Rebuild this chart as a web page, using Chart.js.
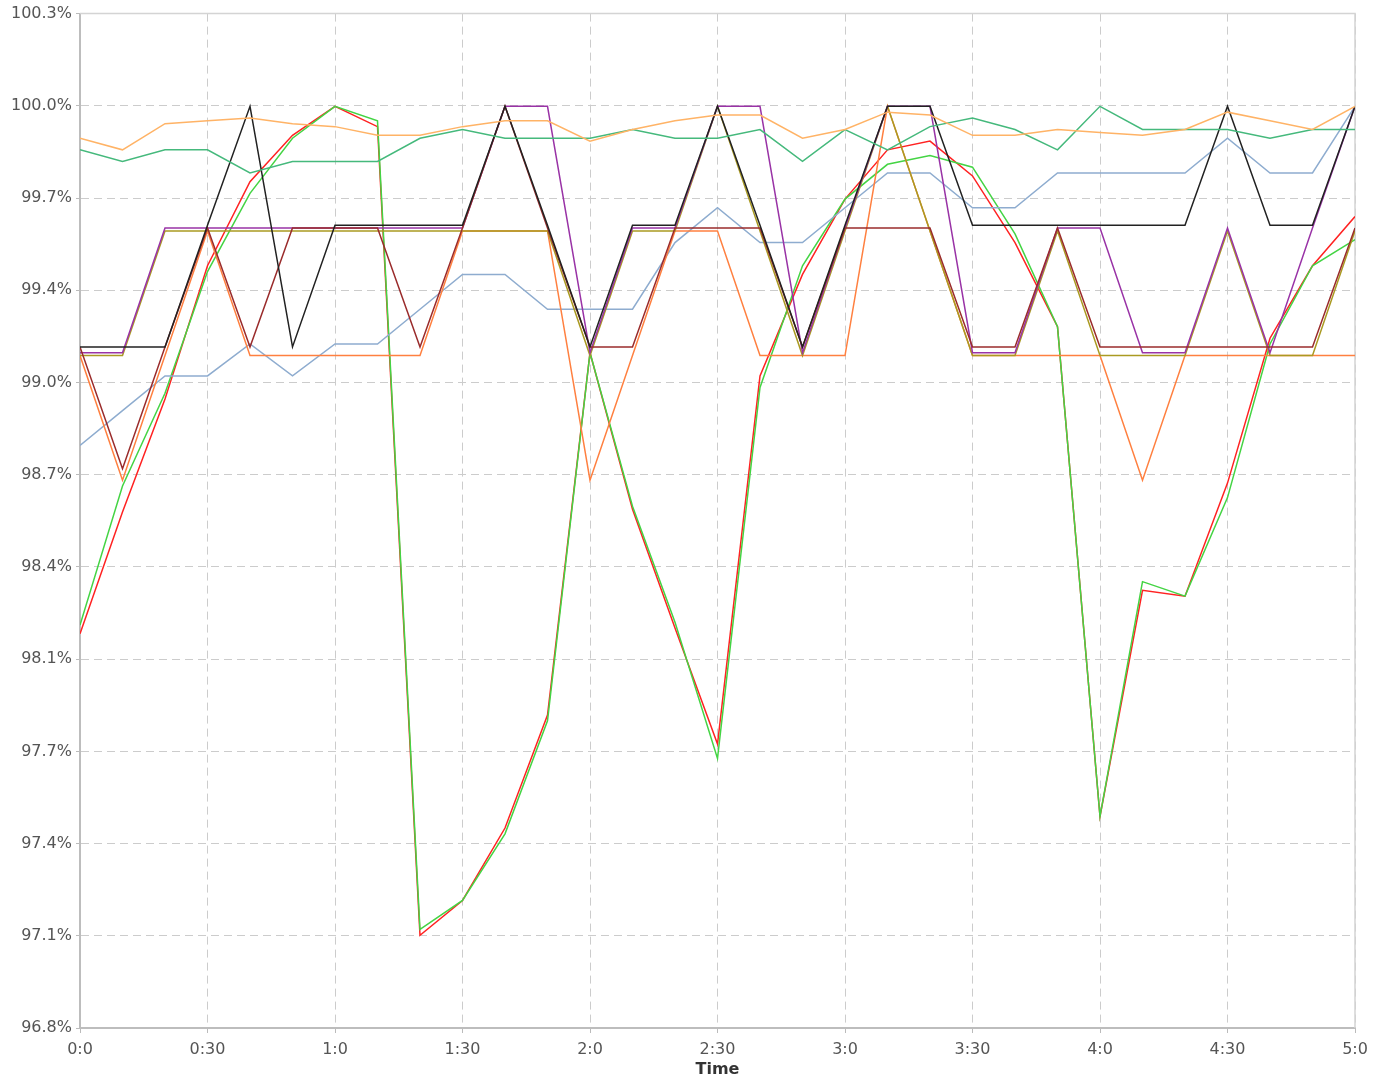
<!DOCTYPE html>
<html>
<head>
<meta charset="utf-8">
<title>Time chart</title>
<script src="https://cdn.jsdelivr.net/npm/chart.js@4.4.1/dist/chart.umd.min.js"></script>
<style>
  body { margin: 0; background: #fff; }
  #wrap { width: 1386px; height: 1079px; }
</style>
</head>
<body>
<div id="wrap"><canvas id="myChart"></canvas></div>
<script>
let seconds = [0, 10, 20, 30, 40, 50, 60, 70, 80, 90, 100, 110, 120, 130, 140, 150, 160, 170, 180, 190, 200, 210, 220, 230, 240, 250, 260, 270, 280, 290, 300];
let yTickLabels = ['96.8%', '97.1%', '97.4%', '97.7%', '98.1%', '98.4%', '98.7%', '99.0%', '99.4%', '99.7%', '100.0%', '100.3%'];
let yMin = 96.8;
let yMax = 100.3;

let lightOrange = [99.87, 99.83, 99.92, 99.93, 99.94, 99.92, 99.91, 99.88, 99.88, 99.91, 99.93, 99.93, 99.86, 99.90, 99.93, 99.95, 99.95, 99.87, 99.90, 99.96, 99.95, 99.88, 99.88, 99.90, 99.89, 99.88, 99.90, 99.96, 99.93, 99.90, 99.98];
let seaGreen = [99.83, 99.79, 99.83, 99.83, 99.75, 99.79, 99.79, 99.79, 99.87, 99.90, 99.87, 99.87, 99.87, 99.90, 99.87, 99.87, 99.90, 99.79, 99.90, 99.83, 99.91, 99.94, 99.90, 99.83, 99.98, 99.90, 99.90, 99.90, 99.87, 99.90, 99.90];
let black = [99.15, 99.15, 99.15, 99.57, 99.98, 99.15, 99.57, 99.57, 99.57, 99.57, 99.98, 99.57, 99.15, 99.57, 99.57, 99.98, 99.57, 99.15, 99.57, 99.98, 99.98, 99.57, 99.57, 99.57, 99.57, 99.57, 99.57, 99.98, 99.57, 99.57, 99.98];
let maroon = [99.15, 98.73, 99.15, 99.56, 99.15, 99.56, 99.56, 99.56, 99.15, 99.56, 99.98, 99.56, 99.15, 99.15, 99.56, 99.56, 99.56, 99.15, 99.56, 99.56, 99.56, 99.15, 99.15, 99.56, 99.15, 99.15, 99.15, 99.15, 99.15, 99.15, 99.56];
let purple = [99.13, 99.13, 99.56, 99.56, 99.56, 99.56, 99.56, 99.56, 99.56, 99.56, 99.98, 99.98, 99.13, 99.56, 99.56, 99.98, 99.98, 99.13, 99.56, 99.98, 99.98, 99.13, 99.13, 99.56, 99.56, 99.13, 99.13, 99.56, 99.13, 99.56, 99.98];
let olive = [99.12, 99.12, 99.55, 99.55, 99.55, 99.55, 99.55, 99.55, 99.55, 99.55, 99.55, 99.55, 99.12, 99.55, 99.55, 99.98, 99.55, 99.12, 99.55, 99.98, 99.55, 99.12, 99.12, 99.55, 99.12, 99.12, 99.12, 99.55, 99.12, 99.12, 99.55];
let orange = [99.12, 98.69, 99.12, 99.55, 99.12, 99.12, 99.12, 99.12, 99.12, 99.55, 99.55, 99.55, 98.69, 99.12, 99.55, 99.55, 99.12, 99.12, 99.12, 99.98, 99.55, 99.12, 99.12, 99.12, 99.12, 98.69, 99.12, 99.12, 99.12, 99.12, 99.12];
let blue = [98.81, 98.93, 99.05, 99.05, 99.16, 99.05, 99.16, 99.16, 99.28, 99.40, 99.40, 99.28, 99.28, 99.28, 99.51, 99.63, 99.51, 99.51, 99.63, 99.75, 99.75, 99.63, 99.63, 99.75, 99.75, 99.75, 99.75, 99.87, 99.75, 99.75, 99.98];
let red = [98.16, 98.58, 98.97, 99.43, 99.72, 99.88, 99.98, 99.91, 97.12, 97.24, 97.49, 97.88, 99.13, 98.59, 98.18, 97.78, 99.05, 99.40, 99.66, 99.83, 99.86, 99.74, 99.51, 99.22, 97.53, 98.31, 98.29, 98.68, 99.18, 99.43, 99.60];
let green = [98.19, 98.67, 98.99, 99.41, 99.68, 99.87, 99.98, 99.93, 97.14, 97.24, 97.47, 97.86, 99.13, 98.60, 98.20, 97.73, 99.01, 99.43, 99.66, 99.78, 99.81, 99.77, 99.54, 99.22, 97.53, 98.34, 98.29, 98.63, 99.16, 99.43, 99.52];

let series = [
    [lightOrange, '#ffb366'],
    [seaGreen, '#45b97c'],
    [black, '#222222'],
    [maroon, '#9a2c2c'],
    [purple, '#9933a6'],
    [olive, '#aa9a22'],
    [orange, '#ff8040'],
    [blue, '#8eaccf'],
    [green, '#44d444'],
    [red, '#ff2222']
];

function fmtTime(v) {
    return Math.floor(v / 60) + ':' + (v % 60);
}

function makeDataset(values, color) {
    return {
        data: seconds.map((s, i) => ({ x: s, y: values[i] })),
        borderColor: color,
        backgroundColor: color,
        borderWidth: 1.5,
        pointRadius: 0,
        tension: 0,
        fill: false
    };
}

// light frame on top and right edge of the plot
let frame = {
    id: 'frame',
    beforeDatasetsDraw(chart) {
        let a = chart.chartArea;
        let ctx = chart.ctx;
        ctx.save();
        ctx.strokeStyle = '#d4d4d4';
        ctx.lineWidth = 1.5;
        ctx.beginPath();
        ctx.moveTo(a.left, a.top);
        ctx.lineTo(a.right, a.top);
        ctx.lineTo(a.right, a.bottom);
        ctx.stroke();
        ctx.restore();
    }
};

Chart.defaults.font.family = '"DejaVu Sans", Verdana, sans-serif';
Chart.defaults.font.size = 16;
Chart.defaults.color = '#555555';

let ctx = document.getElementById('myChart').getContext('2d');
let myChart = new Chart(ctx, {
    type: 'line',
    data: {
        datasets: series.map(s => makeDataset(s[0], s[1]))
    },
    options: {
        responsive: true,
        maintainAspectRatio: false,
        animation: false,
        layout: { padding: { top: 11, right: 31, left: 0, bottom: 0 } },
        plugins: {
            legend: { display: false },
            tooltip: { enabled: false }
        },
        scales: {
            x: {
                type: 'linear',
                min: 0,
                max: 300,
                afterFit: function (axis) { axis.height = 51; },
                ticks: {
                    stepSize: 30,
                    padding: 7,
                    maxRotation: 0,
                    callback: v => fmtTime(v)
                },
                grid: { color: '#cccccc', lineWidth: 1, tickLength: 5, tickColor: '#bbbbbb', tickBorderDash: [] },
                border: { display: true, color: '#bdbdbd', width: 2, dash: [8, 5] },
                title: {
                    display: true,
                    text: 'Time',
                    color: '#333333',
                    font: { weight: 'bold', size: 16 },
                    padding: 0
                }
            },
            y: {
                type: 'linear',
                min: yMin,
                max: yMax,
                afterFit: function (axis) { axis.width = 80; },
                afterBuildTicks: function (axis) {
                    let step = (yMax - yMin) / (yTickLabels.length - 1);
                    axis.ticks = yTickLabels.map((t, i) => ({ value: yMin + i * step }));
                },
                ticks: {
                    padding: 4,
                    callback: (v, i) => yTickLabels[i]
                },
                grid: { color: '#cccccc', lineWidth: 1, tickLength: 4, tickColor: '#bbbbbb', tickBorderDash: [] },
                border: { display: true, color: '#bdbdbd', width: 2, dash: [8, 5] }
            }
        }
    },
    plugins: [frame]
});
</script>
</body>
</html>
